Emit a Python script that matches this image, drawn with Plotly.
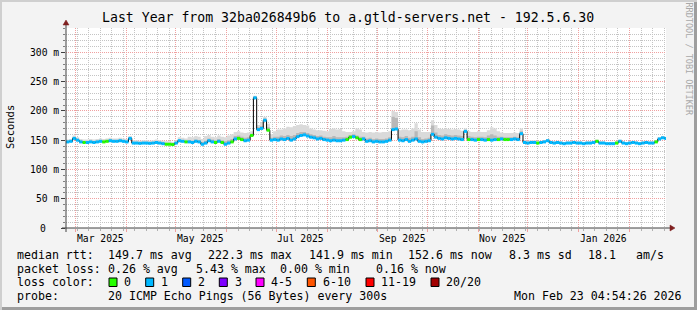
import plotly.graph_objects as go
import pandas as pd

# ---------------- data ----------------
START = "2025-02-23 04:54:26"
END = "2026-02-23 04:54:26"
STEP = "2D"

median_ms = [
    147, 148, 153, 150, 147, 146, 146, 147, 146, 147,
    148, 147, 148, 149, 148, 148, 149, 148, 147, 153,
    145, 145, 144.5, 145, 145, 144.5, 145, 146, 145, 144,
    143, 143, 142.5, 145, 149, 148, 147, 147, 146, 148,
    147, 143, 145, 149, 147, 146, 148, 146, 143, 145,
    147, 152, 153, 151, 149, 150, 158, 222.3, 168, 170,
    184, 167, 150, 151, 150, 152, 151, 153, 150, 152,
    156, 158, 159, 157, 155, 154, 152, 153, 151, 150,
    149, 150, 149, 149, 150, 151, 155, 156, 154, 151,
    152, 148, 149, 147, 148, 147, 147, 148, 150, 168,
    169, 150, 149, 151, 148, 150, 152, 148, 147, 148,
    149, 160, 155, 153, 152, 154, 153, 152, 153, 152,
    151, 165, 151, 151, 150, 151, 151, 150, 151, 150,
    151, 151, 152, 151, 151, 151, 152, 151, 161, 146,
    145, 146, 146, 145, 146, 147, 149, 146, 145, 146,
    145, 144, 145, 145, 146, 145, 145, 144, 145, 145,
    146, 148, 145, 145, 144, 144, 144, 145, 148, 145,
    144, 145, 146, 145, 144, 145, 146, 145, 145, 147,
    152, 154, 153,
]

# lost pings per 20 (0 -> no loss, 1 -> one ping)
loss_pings = [
    1, 1, 1, 1, 1, 0, 1, 1, 1, 1,
    1, 0, 0, 1, 1, 1, 1, 1, 1, 1,
    1, 1, 1, 1, 1, 1, 1, 1, 1, 1,
    0, 0, 0, 1, 1, 1, 0, 1, 1, 1,
    1, 1, 1, 1, 1, 0, 1, 0, 1, 1,
    0, 1, 0, 0, 1, 1, 0, 1, 1, 1,
    1, 0, 1, 1, 1, 1, 1, 1, 1, 1,
    1, 1, 1, 1, 1, 1, 1, 1, 1, 1,
    1, 1, 1, 1, 1, 0, 0, 1, 0, 0,
    1, 1, 1, 1, 1, 1, 1, 1, 1, 1,
    1, 1, 1, 1, 1, 1, 1, 1, 1, 1,
    1, 1, 1, 1, 1, 1, 1, 1, 1, 1,
    1, 1, 0, 1, 1, 0, 1, 1, 0, 1,
    1, 0, 1, 0, 0, 1, 1, 1, 1, 1,
    1, 1, 1, 0, 1, 1, 1, 1, 1, 1,
    1, 1, 1, 1, 1, 1, 1, 1, 1, 1,
    1, 0, 1, 1, 1, 1, 1, 0, 1, 1,
    1, 1, 1, 1, 1, 1, 1, 1, 1, 0,
    1, 1, 1,
]

smoke_hi = [
    151, 152, 158, 155, 152, 151, 151, 152, 151, 152,
    153, 152, 153, 154, 153, 153, 154, 153, 152, 157,
    150, 150, 149, 150, 150, 149, 150, 151, 150, 149,
    148, 148, 147, 150, 155, 154, 153, 156, 155, 157,
    156, 152, 157, 159, 156, 155, 158, 156, 155, 158,
    160, 164, 165, 163, 162, 163, 165, 226, 176, 180,
    190, 178, 160, 165, 168, 168, 170, 173, 172, 174,
    176, 177, 176, 175, 170, 168, 167, 167, 166, 165,
    169, 170, 168, 169, 165, 164, 164, 165, 170, 168,
    164, 163, 164, 163, 164, 163, 164, 164, 165, 200,
    198, 167, 168, 168, 167, 170, 179, 168, 164, 164,
    164, 184, 176, 170, 169, 170, 169, 168, 169, 168,
    166, 170, 165, 164, 164, 165, 164, 164, 167, 172,
    170, 165, 163, 162, 162, 162, 163, 162, 170, 150,
    149, 150, 150, 148, 149, 150, 152, 149, 148, 149,
    148, 147, 148, 148, 149, 148, 148, 147, 148, 148,
    149, 151, 148, 148, 147, 147, 147, 148, 151, 148,
    147, 148, 149, 148, 147, 148, 149, 148, 148, 150,
    155, 157, 156,
]

smoke_mid = [
    149, 150, 155, 152, 149, 148, 148, 149, 148, 149,
    150, 149, 150, 151, 150, 150, 151, 150, 149, 155,
    147, 147, 146.5, 147, 147, 146.5, 147, 148, 147, 146,
    145, 145, 144.5, 147, 151, 150, 149, 150, 149, 151,
    150, 147, 149, 153, 151, 150, 152, 150, 148, 150,
    152, 157, 158, 156, 154, 155, 161, 224, 172, 174,
    187, 172, 154, 156, 156, 158, 157, 159, 157, 159,
    162, 164, 164, 162, 160, 159, 157, 158, 156, 155,
    155, 157, 155, 155, 155, 156, 159, 160, 158, 156,
    156, 153, 154, 152, 153, 152, 152, 153, 155, 190,
    188, 156, 155, 157, 154, 156, 165, 155, 152, 153,
    154, 175, 163, 159, 158, 160, 159, 158, 159, 158,
    157, 167, 157, 156, 155, 156, 156, 155, 158, 160,
    158, 156, 156, 155, 155, 155, 156, 155, 165, 148,
    147, 148, 148, 147, 148, 149, 151, 148, 147, 148,
    147, 146, 147, 147, 148, 147, 147, 146, 147, 147,
    148, 150, 147, 147, 146, 146, 146, 147, 150, 147,
    146, 147, 148, 147, 146, 147, 148, 147, 147, 149,
    154, 156, 155,
]

y_tick_values = [0, 50, 100, 150, 200, 250, 300]
y_tick_labels = ["0", "50 m", "100 m", "150 m", "200 m", "250 m", "300 m"]
x_label_dates = ["2025-03-16", "2025-05-16", "2025-07-16", "2025-09-16", "2025-11-16", "2026-01-16"]
x_label_texts = ["Mar 2025", "May 2025", "Jul 2025", "Sep 2025", "Nov 2025", "Jan 2026"]

loss_legend = ["0", "1", "2", "3", "4-5", "6-10", "11-19", "20/20"]
loss_colors = ["#26ff00", "#00b8ff", "#0059ff", "#7e00ff", "#ff00ff", "#ff5500", "#ff0000", "#a10000"]

title_text = "Last Year from 32ba026849b6 to a.gtld-servers.net - 192.5.6.30"
rtt_items = ["149.7 ms avg", "222.3 ms max", "141.9 ms min", "152.6 ms now", "8.3 ms sd", "18.1", "am/s"]
loss_items = ["0.26 % avg", "5.43 % max", "0.00 % min", "0.16 % now"]
probe_text = "20 ICMP Echo Pings (56 Bytes) every 300s"
stamp_text = "Mon Feb 23 04:54:26 2026"

# ---------------- layout geometry (pixels) ----------------
W, H = 697, 310
PL, PR, PT, PB = 66, 666, 28, 228
FONT = "DejaVu Sans Mono"


def fx(px):
    return (px - PL) / (PR - PL)


def fy(py):
    return (PB - py) / (PB - PT)


times = list(pd.date_range(START, periods=len(median_ms), freq=STEP))
t_edges = times + [times[-1] + pd.Timedelta(STEP)]

fig = go.Figure()

# smoke (light then dark)
for upper, col in ((smoke_hi, "#dadada"), (smoke_mid, "#b8b8b8")):
    fig.add_trace(go.Scatter(x=t_edges, y=median_ms + [median_ms[-1]], mode="lines",
                             line=dict(width=0, shape="hv"), hoverinfo="skip", showlegend=False))
    fig.add_trace(go.Scatter(x=t_edges, y=upper + [upper[-1]], mode="lines",
                             line=dict(width=0, shape="hv"), fill="tonexty", fillcolor=col,
                             hoverinfo="skip", showlegend=False))

# median black line
fig.add_trace(go.Scatter(x=t_edges, y=median_ms + [median_ms[-1]], mode="lines",
                         line=dict(width=1, color="#000000", shape="hv"),
                         hoverinfo="skip", showlegend=False))

# loss-colored median segments
for lvl in sorted(set(loss_pings)):
    xs, ys = [], []
    for i, (m, l) in enumerate(zip(median_ms, loss_pings)):
        if l == lvl:
            xs += [t_edges[i], t_edges[i + 1], None]
            ys += [m, m, None]
    fig.add_trace(go.Scatter(x=xs, y=ys, mode="lines",
                             line=dict(width=3, color=loss_colors[lvl]),
                             hoverinfo="skip", showlegend=False))

# grid definitions
month_starts = list(pd.date_range("2025-03-01", "2026-02-01", freq="MS"))
weeks = list(pd.date_range("2025-03-02", "2026-02-22", freq="7D"))

fig.update_xaxes(type="date", range=[START, END], showticklabels=False,
                 tickmode="array", tickvals=month_starts,
                 showgrid=True, gridcolor="#f0a0a0", griddash="1px,1px", gridwidth=1,
                 ticks="outside", ticklen=3, tickcolor="#f0a0a0",
                 minor=dict(tickmode="array", tickvals=weeks, showgrid=True,
                            gridcolor="#c4c4c4", griddash="1px,1px", ticks="outside",
                            ticklen=2, tickcolor="#b0b0b0"),
                 showline=False, zeroline=False, fixedrange=True)
fig.update_yaxes(range=[0, 341.5], showticklabels=False,
                 tickmode="array", tickvals=y_tick_values,
                 showgrid=True, gridcolor="#f0a0a0", griddash="1px,1px",
                 ticks="outside", ticklen=4, tickcolor="#404040",
                 minor=dict(dtick=10, tick0=0, showgrid=True, gridcolor="#c4c4c4",
                            griddash="1px,1px", ticks="outside", ticklen=2, tickcolor="#808080"),
                 showline=False, zeroline=False, fixedrange=True)

shapes = []
# outer bevel
shapes.append(dict(type="rect", xref="paper", yref="paper", x0=fx(0), x1=fx(W), y0=fy(0), y1=fy(2),
                   fillcolor="#cfcfcf", line_width=0, layer="above"))
shapes.append(dict(type="rect", xref="paper", yref="paper", x0=fx(0), x1=fx(2), y0=fy(0), y1=fy(H),
                   fillcolor="#cfcfcf", line_width=0, layer="above"))
shapes.append(dict(type="rect", xref="paper", yref="paper", x0=fx(2), x1=fx(W), y0=fy(H - 3), y1=fy(H),
                   fillcolor="#9e9e9e", line_width=0, layer="above"))
shapes.append(dict(type="rect", xref="paper", yref="paper", x0=fx(W - 3), x1=fx(W), y0=fy(2), y1=fy(H),
                   fillcolor="#9e9e9e", line_width=0, layer="above"))
# axes
shapes.append(dict(type="line", xref="paper", yref="paper", x0=fx(62), x1=fx(670), y0=0, y1=0,
                   line=dict(color="#404040", width=1), layer="above"))
shapes.append(dict(type="line", xref="paper", yref="paper", x0=0, x1=0, y0=fy(232), y1=fy(24),
                   line=dict(color="#404040", width=1), layer="above"))
# arrows
shapes.append(dict(type="path", xref="paper", yref="paper",
                   path=f"M {fx(670)} {fy(225)} L {fx(675)} {fy(228)} L {fx(670)} {fy(231)} Z",
                   fillcolor="#7f1f1f", line=dict(color="#7f1f1f", width=0.5), layer="above"))
shapes.append(dict(type="path", xref="paper", yref="paper",
                   path=f"M {fx(63)} {fy(25)} L {fx(66)} {fy(20)} L {fx(69)} {fy(25)} Z",
                   fillcolor="#7f1f1f", line=dict(color="#7f1f1f", width=0.5), layer="above"))

ann = []


def text(px, py, s, size=11.6, anchor="left", color="#000000", angle=0):
    ann.append(dict(x=fx(px), y=fy(py), xref="paper", yref="paper",
                    text=s, showarrow=False, xanchor=anchor, yanchor="middle",
                    font=dict(family=FONT, size=size, color=color), borderpad=0,
                    textangle=angle))


text(347.5, 18, title_text, size=13.2, anchor="center")
text(10, 127, "Seconds", size=10.5, anchor="center", angle=-90)
text(688.5, 59, "RRDTOOL / TOBI OETIKER", size=8.5, anchor="center", color="#a8a8a8", angle=90)

for v, lab in zip(y_tick_values, y_tick_labels):
    xr = 47 if v == 0 else 60
    ann.append(dict(x=fx(xr), y=v, xref="paper", yref="y", text=lab, showarrow=False,
                    xanchor="right", yanchor="middle", borderpad=0,
                    font=dict(family=FONT, size=9.7, color="#000000")))

for d, lab in zip(x_label_dates, x_label_texts):
    ann.append(dict(x=d, y=fy(238), xref="x", yref="paper", text=lab, showarrow=False,
                    xanchor="center", yanchor="middle", borderpad=0,
                    font=dict(family=FONT, size=9.7, color="#000000")))

# legend rows
text(16, 255, "median rtt:")
for px, s in zip([107.3, 207.3, 308, 407.3, 508.3, 586.7, 635], rtt_items):
    text(px, 255, s)
text(16, 268.5, "packet loss:")
for px, s in zip([107.3, 195, 279.3, 375], loss_items):
    text(px, 268.5, s)
text(16, 282, "loss color:")
sw_x = [109, 145.7, 182.7, 219.3, 256, 307.3, 366, 431]
for px, lab, col in zip(sw_x, loss_legend, loss_colors):
    shapes.append(dict(type="rect", xref="paper", yref="paper", x0=fx(px), x1=fx(px + 8),
                       y0=fy(286.5), y1=fy(278), fillcolor=col, line=dict(color="#000000", width=1),
                       layer="above"))
    text(px + 14.3, 282, lab)
text(16, 296, "probe:")
text(107.3, 296, probe_text)
text(513.3, 296, stamp_text)

fig.update_layout(width=W, height=H, margin=dict(l=PL, r=W - PR, t=PT, b=H - PB),
                  paper_bgcolor="#f3f3f3", plot_bgcolor="#ffffff",
                  shapes=shapes, annotations=ann, showlegend=False)

fig.write_html("out.html")
